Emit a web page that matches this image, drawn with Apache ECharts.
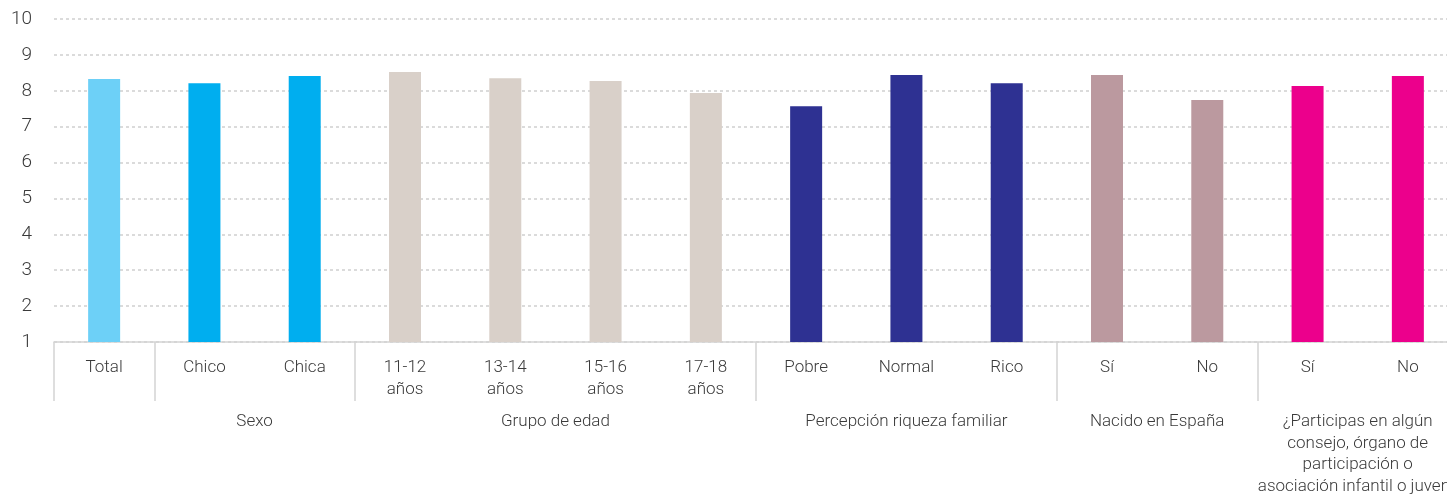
<!DOCTYPE html>
<html>
<head>
<meta charset="utf-8">
<script src="https://cdn.jsdelivr.net/npm/echarts@6/dist/echarts.min.js"></script>
<style>
  html, body { margin: 0; padding: 0; background: #fff; overflow: hidden; width: 1447px; height: 496px; }
  /* the plot runs slightly past the right edge of the window */
  #chart { width: 1458px; height: 496px; }
</style>
</head>
<body>
<div id="chart"></div>
<script>
// Average score by breakdown (scale 1–10)
const categories = ['Total', 'Chico', 'Chica', '11-12\naños', '13-14\naños', '15-16\naños', '17-18\naños',
  'Pobre', 'Normal', 'Rico', 'Sí', 'No', 'Sí', 'No'];
const values = [8.33, 8.21, 8.41, 8.52, 8.35, 8.27, 7.94, 7.57, 8.44, 8.21, 8.44, 7.74, 8.13, 8.41];
const barColors = ['#6DD0F7', '#00AEEF', '#00AEEF', '#D9D0C9', '#D9D0C9', '#D9D0C9', '#D9D0C9',
  '#2E3192', '#2E3192', '#2E3192', '#BB999F', '#BB999F', '#EC008C', '#EC008C'];

// Group headings under the categories: first and last category index of each group
const groupLabels = ['', 'Sexo', 'Grupo de edad', 'Percepción riqueza familiar', 'Nacido en España',
  '¿Participas en algún\nconsejo, órgano de\nparticipación o\nasociación infantil o juvenil'];
const groupStart = [0, 1, 3, 7, 10, 12];
const groupEnd = [0, 2, 6, 9, 11, 13];

const yMin = 1, yMax = 10, yStep = 1;

const FONT = 'Roboto, "Liberation Sans", sans-serif';
const WEIGHT = 300;
const TEXT = '#3a3a3a';
const RULE = '#d3d3d3';

const chart = echarts.init(document.getElementById('chart'), null, { renderer: 'canvas' });

chart.setOption({
  animation: false,
  backgroundColor: '#fff',
  grid: { left: 54, right: 0, top: 19, height: 323, containLabel: false },
  xAxis: {
    type: 'category',
    data: categories,
    boundaryGap: true,
    axisLine: { show: true, lineStyle: { color: RULE, width: 1.5 } },
    axisTick: {
      show: true,
      length: 59,
      interval: (idx) => groupStart.indexOf(idx) !== -1,
      lineStyle: { color: RULE, width: 1.5 }
    },
    axisLabel: {
      interval: 0,
      margin: 15,
      fontFamily: FONT,
      fontWeight: WEIGHT,
      fontSize: 17,
      lineHeight: 22,
      color: TEXT
    },
    splitLine: { show: false }
  },
  yAxis: {
    type: 'value',
    min: yMin,
    max: yMax,
    interval: yStep,
    axisLine: { show: false },
    axisTick: { show: false },
    axisLabel: { margin: 22, fontFamily: FONT, fontWeight: WEIGHT, fontSize: 19, color: TEXT },
    splitLine: { show: true, lineStyle: { color: '#d0d0d0', type: [3, 3], width: 1.5 } }
  },
  series: [{
    type: 'bar',
    barWidth: 32,
    data: values.map((v, i) => ({ value: v, itemStyle: { color: barColors[i] } }))
  }]
});

// Place group headings centred under their categories using the axis scale
const axisY = chart.convertToPixel({ yAxisIndex: 0 }, yMin);
const graphics = groupLabels.map((label, g) => {
  const x0 = chart.convertToPixel({ xAxisIndex: 0 }, groupStart[g]);
  const x1 = chart.convertToPixel({ xAxisIndex: 0 }, groupEnd[g]);
  return {
    type: 'text',
    x: (x0 + x1) / 2,
    y: axisY + 69,
    style: {
      text: label,
      fontFamily: FONT,
      fontWeight: WEIGHT,
      fontSize: 17,
      lineHeight: 21.5,
      fill: TEXT,
      textAlign: 'center',
      textVerticalAlign: 'top'
    }
  };
});
chart.setOption({ graphic: graphics });
</script>
</body>
</html>
